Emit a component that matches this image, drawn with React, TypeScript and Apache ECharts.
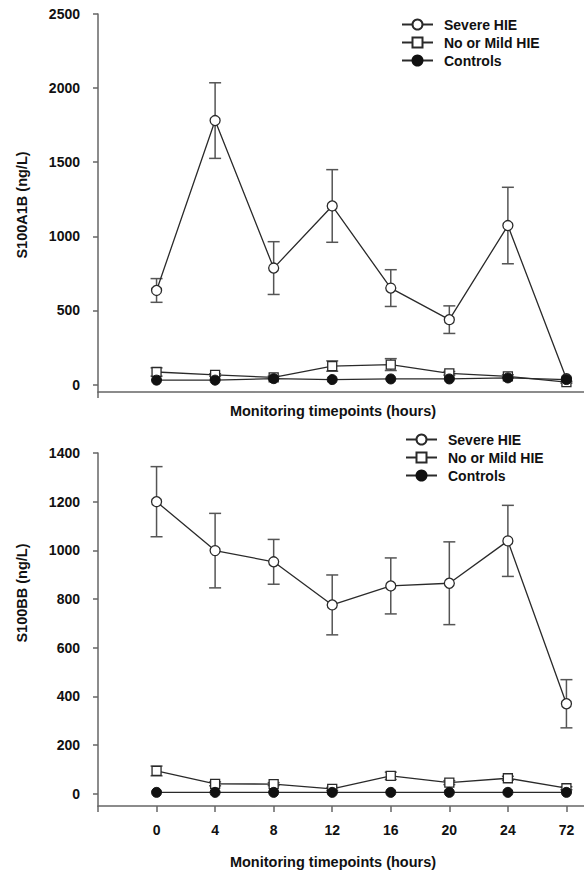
import React, { useEffect, useRef } from "react";
import * as echarts from "echarts";

const timepoints = ["0", "4", "8", "12", "16", "20", "24", "72"];
const seriesNames = ["Severe HIE", "No or Mild HIE", "Controls"];

// S100A1B (ng/L)
const a1bSevere = [635, 1781, 786, 1205, 651, 438, 1073, 40];
const a1bSevereErr = [80, 255, 178, 245, 124, 93, 258, 0];
const a1bMild = [85, 65, 49, 125, 135, 76, 56, 16];
const a1bMildErr = [28, 8, 8, 35, 40, 12, 10, 6];
const a1bControls = [30, 30, 40, 34, 38, 38, 45, 34];
const a1bTicks = [0, 500, 1000, 1500, 2000, 2500];

// S100BB (ng/L)
const bbSevere = [1200, 999, 953, 776, 854, 865, 1039, 370];
const bbSevereErr = [144, 153, 92, 123, 115, 170, 146, 99];
const bbMild = [94, 41, 40, 20, 74, 46, 64, 23];
const bbMildErr = [20, 8, 6, 6, 15, 8, 8, 6];
const bbControls = [6, 6, 6, 6, 6, 6, 6, 6];
const bbTicks = [0, 200, 400, 600, 800, 1000, 1200, 1400];

const FONT = "'Liberation Sans', Arial, Helvetica, sans-serif";
const AXIS_COLOR = "#666";
const LINE_COLOR = "#2a2a2a";
const ERR_COLOR = "#555";
const TEXT_COLOR = "#111";

function errRender(params: any, api: any) {
  const x = api.value(0);
  const lo = api.value(1);
  const hi = api.value(2);
  const pHi = api.coord([x, hi]);
  const pLo = api.coord([x, lo]);
  const hw = 6;
  const style = { stroke: ERR_COLOR, lineWidth: 1.5 };
  return {
    type: "group",
    children: [
      { type: "line", shape: { x1: pHi[0], y1: pHi[1], x2: pLo[0], y2: pLo[1] }, style },
      { type: "line", shape: { x1: pHi[0] - hw, y1: pHi[1], x2: pHi[0] + hw, y2: pHi[1] }, style },
      { type: "line", shape: { x1: pLo[0] - hw, y1: pLo[1], x2: pLo[0] + hw, y2: pLo[1] }, style },
    ],
  };
}

function errData(vals: number[], errs: number[]) {
  const out: number[][] = [];
  vals.forEach((v, i) => {
    if (errs[i] > 0) out.push([i, v - errs[i], v + errs[i]]);
  });
  return out;
}

function pts(vals: number[]) {
  return vals.map((v, i) => [i, v]);
}

function buildSeries(idx: number, severe: number[], severeErr: number[], mild: number[], mildErr: number[], controls: number[]) {
  const lineStyle = { color: LINE_COLOR, width: 1.3 };
  return [
    {
      type: "custom",
      name: "err-severe-" + idx,
      xAxisIndex: idx,
      yAxisIndex: idx,
      renderItem: errRender,
      data: errData(severe, severeErr),
      encode: { x: 0, y: [1, 2] },
      silent: true,
      z: 1,
    },
    {
      type: "custom",
      name: "err-mild-" + idx,
      xAxisIndex: idx,
      yAxisIndex: idx,
      renderItem: errRender,
      data: errData(mild, mildErr),
      encode: { x: 0, y: [1, 2] },
      silent: true,
      z: 1,
    },
    {
      type: "line",
      name: seriesNames[0],
      xAxisIndex: idx,
      yAxisIndex: idx,
      data: pts(severe),
      symbol: "circle",
      symbolSize: 10,
      showAllSymbol: true,
      lineStyle,
      itemStyle: { color: "#fff", borderColor: LINE_COLOR, borderWidth: 1.3 },
      z: 2,
    },
    {
      type: "line",
      name: seriesNames[1],
      xAxisIndex: idx,
      yAxisIndex: idx,
      data: pts(mild),
      symbol: "rect",
      symbolSize: 9,
      showAllSymbol: true,
      lineStyle,
      itemStyle: { color: "#fff", borderColor: LINE_COLOR, borderWidth: 1.3 },
      z: 3,
    },
    {
      type: "line",
      name: seriesNames[2],
      xAxisIndex: idx,
      yAxisIndex: idx,
      data: pts(controls),
      symbol: "circle",
      symbolSize: 10,
      showAllSymbol: true,
      lineStyle,
      itemStyle: { color: "#111", borderColor: "#111", borderWidth: 1 },
      z: 4,
    },
  ];
}

function yAxisFor(idx: number, ticks: number[]) {
  return {
    type: "value",
    gridIndex: idx,
    min: -50,
    max: ticks[ticks.length - 1],
    splitLine: { show: false },
    axisLine: { show: true, onZero: false, lineStyle: { color: AXIS_COLOR, width: 1.5 } },
    axisTick: { show: true, length: 5, inside: false, customValues: ticks, lineStyle: { color: AXIS_COLOR, width: 1.5 } },
    axisLabel: {
      show: true,
      customValues: ticks,
      margin: 18,
      formatter: (v: number) => String(v),
      color: TEXT_COLOR,
      fontFamily: FONT,
      fontWeight: "bold",
      fontSize: 14,
    },
  };
}

function xAxisFor(idx: number, showLabels: boolean) {
  const idxs = timepoints.map((_, i) => i);
  return {
    type: "value",
    gridIndex: idx,
    min: -1,
    max: 7.3,
    splitLine: { show: false },
    axisLine: { show: true, onZero: false, lineStyle: { color: AXIS_COLOR, width: 1.5 } },
    axisTick: {
      show: true,
      length: 6,
      customValues: showLabels ? [-1, ...idxs] : [-1],
      lineStyle: { color: AXIS_COLOR, width: 1.5 },
    },
    axisLabel: {
      show: showLabels,
      customValues: idxs,
      margin: 17,
      formatter: (v: number) => timepoints[Math.round(v)] ?? "",
      color: TEXT_COLOR,
      fontFamily: FONT,
      fontWeight: "bold",
      fontSize: 14,
    },
  };
}

function legendFor(left: number, top: number) {
  return {
    orient: "vertical",
    left,
    top,
    padding: 0,
    data: seriesNames,
    itemWidth: 31,
    itemHeight: 12.5,
    itemGap: 3,
    selectedMode: false,
    textStyle: {
      color: TEXT_COLOR,
      fontFamily: FONT,
      fontWeight: "bold",
      fontSize: 14,
      lineHeight: 15,
      padding: [0, 0, 0, 6],
    },
  };
}

function titleText(text: string, x: number, y: number, rotate: boolean) {
  return {
    type: "text",
    x,
    y,
    rotation: rotate ? Math.PI / 2 : 0,
    style: {
      text,
      fill: TEXT_COLOR,
      font: `bold 14.5px ${FONT}`,
      align: "center",
      verticalAlign: "middle",
    },
    silent: true,
  };
}

export default function App() {
  const ref = useRef<HTMLDivElement>(null);

  useEffect(() => {
    if (!ref.current) return;
    const chart = echarts.init(ref.current, null, { renderer: "svg" });
    chart.setOption({
      animation: false,
      backgroundColor: "#fff",
      grid: [
        { left: 98, right: 0, top: 14, height: 378 },
        { left: 98, right: 0, top: 453, height: 353 },
      ],
      xAxis: [xAxisFor(0, false), xAxisFor(1, true)],
      yAxis: [yAxisFor(0, a1bTicks), yAxisFor(1, bbTicks)],
      legend: [legendFor(401, 17), legendFor(405, 432)],
      graphic: [
        titleText("S100A1B (ng/L)", 22, 205, true),
        titleText("Monitoring timepoints (hours)", 333, 411, false),
        titleText("S100BB (ng/L)", 22, 593, true),
        titleText("Monitoring timepoints (hours)", 333, 862, false),
      ],
      series: [
        ...buildSeries(0, a1bSevere, a1bSevereErr, a1bMild, a1bMildErr, a1bControls),
        ...buildSeries(1, bbSevere, bbSevereErr, bbMild, bbMildErr, bbControls),
      ],
    });
    return () => chart.dispose();
  }, []);

  return (
    <div
      ref={ref}
      style={{ position: "absolute", left: 0, top: 0, width: 584, height: 871 }}
    />
  );
}
